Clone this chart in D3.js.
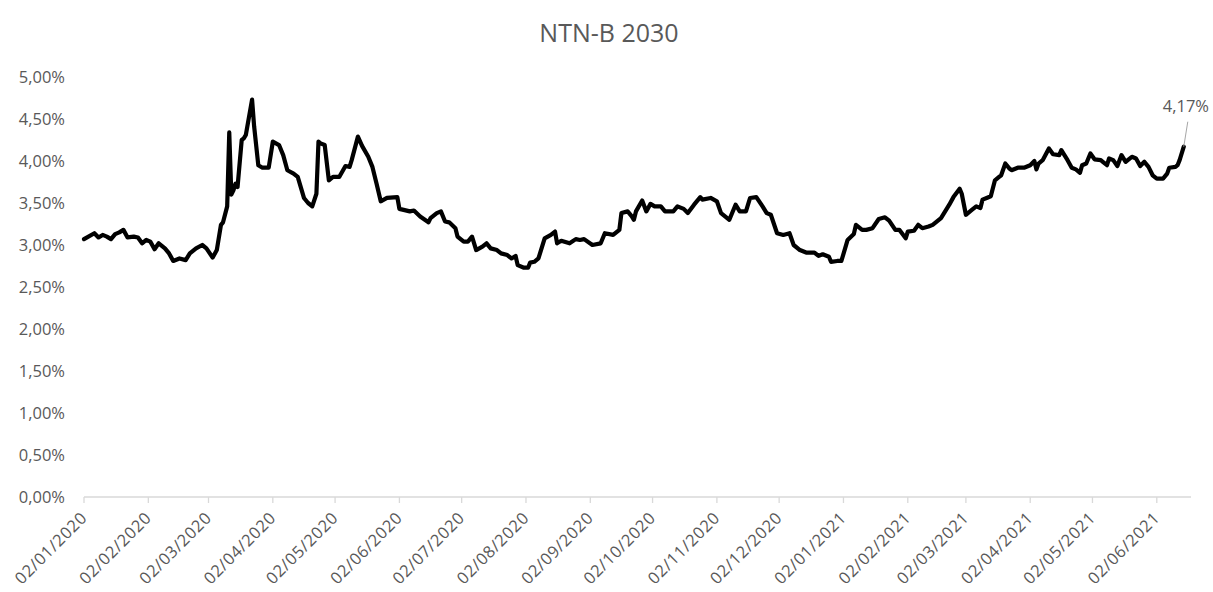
<!DOCTYPE html>
<html>
<head>
<meta charset="utf-8">
<script src="https://cdn.jsdelivr.net/npm/d3@7/dist/d3.min.js"></script>
<style>
  html, body { margin: 0; padding: 0; background: #ffffff; }
  svg { display: block; }
  text { font-family: "Open Sans", "Noto Sans", sans-serif; fill: #595959; }
</style>
</head>
<body>
<svg id="chart" width="1213" height="592"></svg>
<script>
// NTN-B 2030 real yield, % a.a.
const chartTitle = "NTN-B 2030";

const dates = [
  "2020-01-02","2020-01-07","2020-01-09","2020-01-11","2020-01-13","2020-01-15","2020-01-17","2020-01-19","2020-01-21","2020-01-23",
  "2020-01-26","2020-01-28","2020-01-30","2020-02-01","2020-02-03","2020-02-05","2020-02-07","2020-02-10","2020-02-12","2020-02-14",
  "2020-02-17","2020-02-20","2020-02-22","2020-02-25","2020-02-28","2020-03-01","2020-03-04","2020-03-06","2020-03-08","2020-03-09",
  "2020-03-11","2020-03-12","2020-03-13","2020-03-14","2020-03-15","2020-03-16","2020-03-18","2020-03-19","2020-03-20","2020-03-23",
  "2020-03-24","2020-03-26","2020-03-28","2020-03-31","2020-04-02","2020-04-05","2020-04-07","2020-04-09","2020-04-12","2020-04-14",
  "2020-04-17","2020-04-19","2020-04-21","2020-04-23","2020-04-24","2020-04-25","2020-04-27","2020-04-29","2020-05-01","2020-05-04",
  "2020-05-07","2020-05-09","2020-05-10","2020-05-13","2020-05-15","2020-05-18","2020-05-20","2020-05-22","2020-05-24","2020-05-27",
  "2020-06-01","2020-06-02","2020-06-07","2020-06-09","2020-06-12","2020-06-16","2020-06-17","2020-06-20","2020-06-22","2020-06-24",
  "2020-06-26","2020-06-29","2020-06-30","2020-07-03","2020-07-05","2020-07-07","2020-07-09","2020-07-12","2020-07-14","2020-07-16",
  "2020-07-19","2020-07-21","2020-07-24","2020-07-26","2020-07-28","2020-07-29","2020-08-01","2020-08-03","2020-08-04","2020-08-06",
  "2020-08-08","2020-08-11","2020-08-14","2020-08-16","2020-08-17","2020-08-19","2020-08-23","2020-08-26","2020-08-28","2020-08-30",
  "2020-09-03","2020-09-07","2020-09-09","2020-09-13","2020-09-16","2020-09-17","2020-09-20","2020-09-22","2020-09-23","2020-09-24",
  "2020-09-27","2020-09-29","2020-10-01","2020-10-03","2020-10-06","2020-10-08","2020-10-12","2020-10-14","2020-10-17","2020-10-19",
  "2020-10-22","2020-10-25","2020-10-26","2020-10-30","2020-11-02","2020-11-04","2020-11-08","2020-11-11","2020-11-13","2020-11-16",
  "2020-11-18","2020-11-21","2020-11-24","2020-11-26","2020-11-28","2020-12-01","2020-12-04","2020-12-07","2020-12-09","2020-12-12",
  "2020-12-15","2020-12-19","2020-12-21","2020-12-23","2020-12-26","2020-12-27","2020-12-30","2021-01-01","2021-01-04","2021-01-07",
  "2021-01-08","2021-01-11","2021-01-13","2021-01-16","2021-01-19","2021-01-22","2021-01-24","2021-01-27","2021-01-29","2021-02-01",
  "2021-02-02","2021-02-05","2021-02-07","2021-02-09","2021-02-12","2021-02-14","2021-02-18","2021-02-20","2021-02-22","2021-02-24",
  "2021-02-27","2021-02-28","2021-03-02","2021-03-05","2021-03-07","2021-03-09","2021-03-10","2021-03-12","2021-03-14","2021-03-16",
  "2021-03-18","2021-03-19","2021-03-21","2021-03-23","2021-03-24","2021-03-27","2021-03-30","2021-04-02","2021-04-04","2021-04-05",
  "2021-04-06","2021-04-08","2021-04-11","2021-04-13","2021-04-16","2021-04-17","2021-04-20","2021-04-22","2021-04-24","2021-04-26",
  "2021-04-27","2021-04-29","2021-05-01","2021-05-03","2021-05-06","2021-05-07","2021-05-09","2021-05-10","2021-05-12","2021-05-14",
  "2021-05-16","2021-05-18","2021-05-19","2021-05-21","2021-05-23","2021-05-25","2021-05-27","2021-05-29","2021-05-31","2021-06-02",
  "2021-06-05","2021-06-07","2021-06-08","2021-06-11","2021-06-12","2021-06-13","2021-06-15"
];

const yields = [
  3.07,3.14,3.09,3.12,3.10,3.07,3.13,3.15,3.18,3.09,
  3.10,3.09,3.02,3.06,3.04,2.95,3.02,2.96,2.90,2.81,
  2.84,2.82,2.90,2.96,3.00,2.96,2.85,2.94,3.24,3.27,
  3.46,4.34,3.60,3.65,3.73,3.69,4.25,4.27,4.31,4.73,
  4.41,3.95,3.92,3.92,4.23,4.19,4.07,3.89,3.85,3.81,
  3.56,3.50,3.46,3.61,4.23,4.21,4.19,3.77,3.81,3.81,
  3.94,3.93,4.01,4.29,4.18,4.05,3.93,3.73,3.52,3.56,
  3.57,3.43,3.40,3.41,3.34,3.27,3.32,3.38,3.40,3.28,
  3.27,3.20,3.10,3.04,3.04,3.10,2.94,2.98,3.02,2.96,
  2.94,2.90,2.88,2.84,2.87,2.76,2.73,2.73,2.79,2.80,
  2.84,3.08,3.12,3.16,3.02,3.05,3.02,3.07,3.06,3.07,
  3.00,3.02,3.14,3.12,3.18,3.38,3.40,3.34,3.30,3.40,
  3.53,3.40,3.49,3.46,3.46,3.40,3.40,3.46,3.43,3.38,
  3.48,3.57,3.54,3.56,3.52,3.38,3.30,3.48,3.40,3.40,
  3.56,3.57,3.46,3.38,3.36,3.14,3.12,3.14,3.00,2.94,
  2.91,2.91,2.87,2.89,2.86,2.80,2.81,2.81,3.06,3.13,
  3.24,3.18,3.18,3.20,3.31,3.33,3.29,3.18,3.18,3.08,
  3.16,3.17,3.24,3.20,3.22,3.24,3.32,3.40,3.48,3.57,
  3.67,3.61,3.36,3.42,3.46,3.44,3.54,3.56,3.58,3.77,
  3.81,3.83,3.97,3.91,3.89,3.92,3.92,3.95,4.00,3.90,
  3.97,4.01,4.15,4.08,4.07,4.13,4.01,3.92,3.90,3.86,
  3.95,3.97,4.09,4.02,4.01,3.99,3.95,4.03,4.01,3.94,
  4.07,3.99,4.01,4.05,4.03,3.94,3.99,3.93,3.83,3.79,
  3.79,3.85,3.92,3.93,3.95,4.01,4.17
];

const xTickDates = [
  "2020-01-02","2020-02-02","2020-03-02","2020-04-02","2020-05-02","2020-06-02",
  "2020-07-02","2020-08-02","2020-09-02","2020-10-02","2020-11-02","2020-12-02",
  "2021-01-02","2021-02-02","2021-03-02","2021-04-02","2021-05-02","2021-06-02"
];
const yTickValues = [0, 0.5, 1, 1.5, 2, 2.5, 3, 3.5, 4, 4.5, 5];
const xDomain = ["2020-01-02", "2021-06-18"];

const parse = d3.utcParse("%Y-%m-%d");
const series = dates.map((d, i) => ({ date: parse(d), value: yields[i] }));

const svg = d3.select("#chart");

const x = d3.scaleUtc()
  .domain(xDomain.map(parse))
  .range([84, 1190]);

const y = d3.scaleLinear()
  .domain([0, 5])
  .range([497, 77]);

const pct = v => d3.format(".2f")(v).replace(".", ",") + "%";
const dateFmt = d3.utcFormat("%d/%m/%Y");

// title
svg.append("text")
  .attr("x", 609)
  .attr("y", 42)
  .attr("text-anchor", "middle")
  .style("font-size", "25px")
  .text(chartTitle);

// y axis labels (no axis line, no gridlines)
svg.append("g")
  .selectAll("text")
  .data(yTickValues)
  .join("text")
  .attr("x", 65)
  .attr("y", d => y(d))
  .attr("dy", "0.36em")
  .attr("text-anchor", "end")
  .style("font-size", "16.5px")
  .text(pct);

// x axis: baseline, tick marks and rotated date labels
const xAxis = svg.append("g");
xAxis.append("line")
  .attr("x1", x.range()[0])
  .attr("x2", x.range()[1] + 1)
  .attr("y1", y(0))
  .attr("y2", y(0))
  .attr("stroke", "#d9d9d9")
  .attr("stroke-width", 1.3);

xAxis.selectAll("line.tick")
  .data(xTickDates.map(parse))
  .join("line")
  .attr("class", "tick")
  .attr("x1", d => x(d))
  .attr("x2", d => x(d))
  .attr("y1", y(0))
  .attr("y2", y(0) + 6)
  .attr("stroke", "#d9d9d9")
  .attr("stroke-width", 1.3);

xAxis.selectAll("text")
  .data(xTickDates.map(parse))
  .join("text")
  .attr("transform", d => `translate(${x(d) + 4},${y(0) + 22}) rotate(-45)`)
  .attr("text-anchor", "end")
  .style("font-size", "16.5px")
  .style("letter-spacing", "0.6px")
  .text(dateFmt);

// yield line
const line = d3.line()
  .x(d => x(d.date))
  .y(d => y(d.value));

svg.append("path")
  .datum(series)
  .attr("d", line)
  .attr("fill", "none")
  .attr("stroke", "#000000")
  .attr("stroke-width", 4.2)
  .attr("stroke-linejoin", "round")
  .attr("stroke-linecap", "round");

// last value callout
const last = series[series.length - 1];
const lx = x(last.date), ly = y(last.value);
svg.append("line")
  .attr("x1", lx)
  .attr("y1", ly)
  .attr("x2", lx + 4)
  .attr("y2", ly - 25)
  .attr("stroke", "#a6a6a6")
  .attr("stroke-width", 1);
svg.append("text")
  .attr("x", lx - 21)
  .attr("y", ly - 35)
  .style("font-size", "16.5px")
  .text(pct(last.value));
</script>
</body>
</html>
